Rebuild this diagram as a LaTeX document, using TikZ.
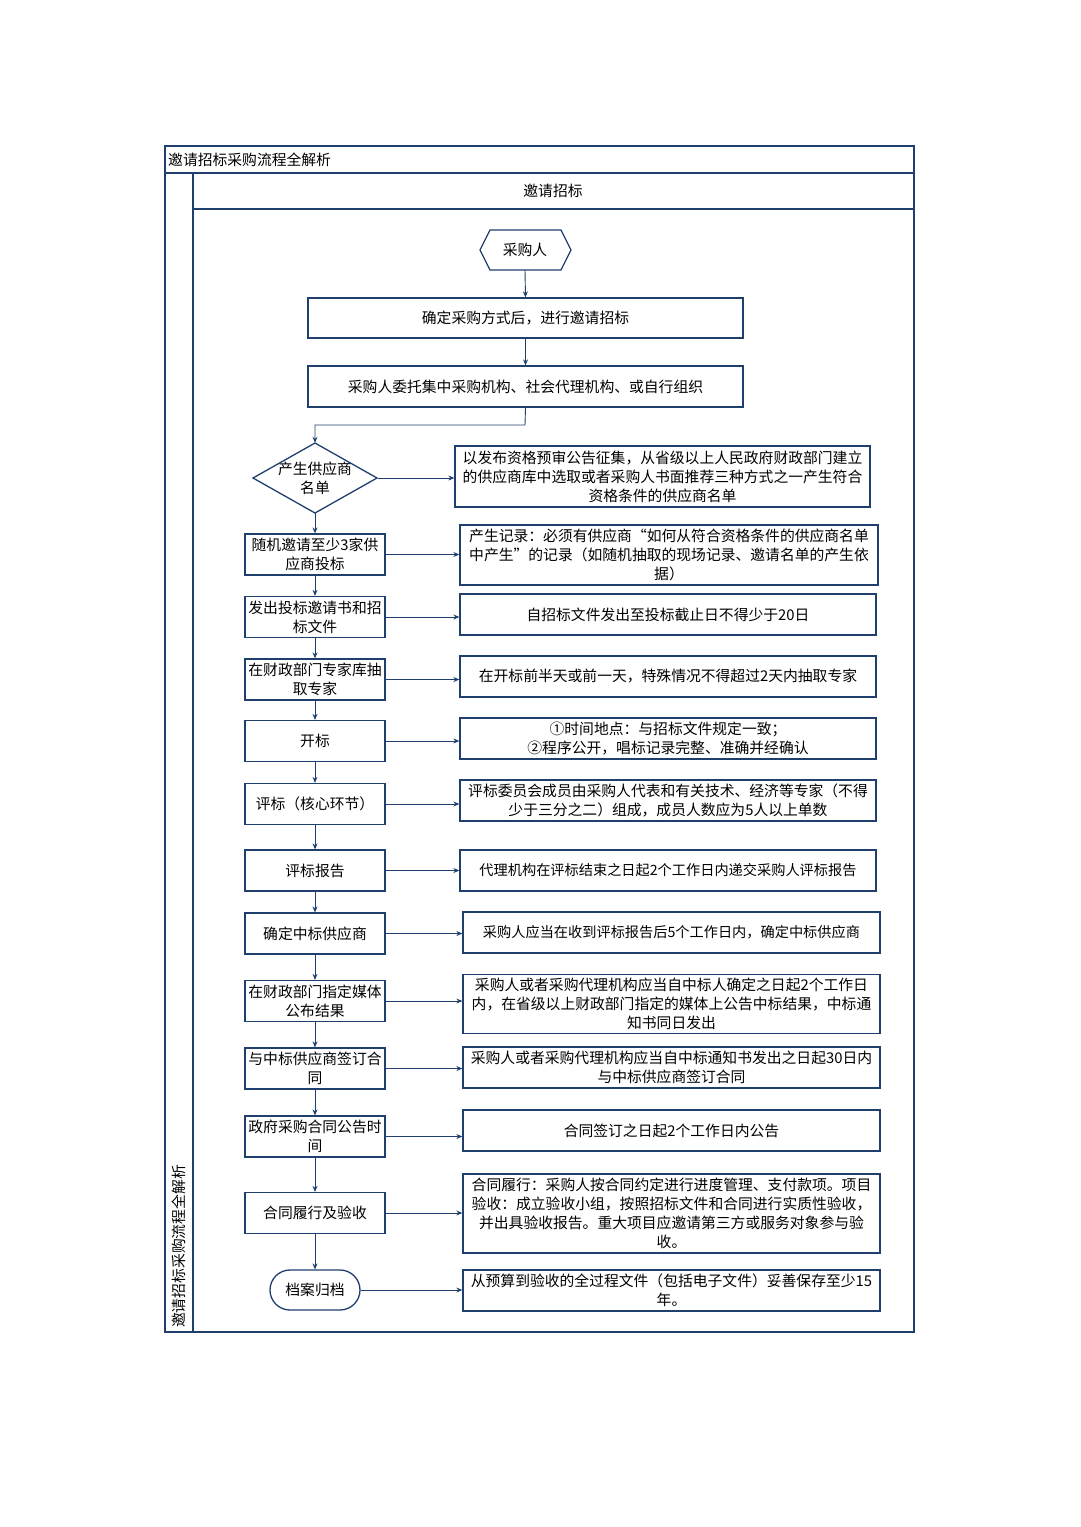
\documentclass[tikz,border=0pt]{standalone}
\usepackage{fontspec}
\setmainfont{Noto Sans CJK SC}
\XeTeXlinebreaklocale "zh"
\XeTeXlinebreakskip=0pt plus 0.5pt
\usetikzlibrary{arrows.meta}
\definecolor{ln}{HTML}{1F3F6F}
\begin{document}
\begin{tikzpicture}[x=1pt,y=-1pt,
  font=\fontsize{14.8pt}{19pt}\selectfont,
  bd/.style={line width=1.3pt, draw=ln},
  arr/.style={-{Stealth[length=6pt,width=5pt]}, line width=0.9pt, draw=ln},
  lb/.style={draw=ln, line width=1.3pt, minimum width=140pt, minimum height=41pt, align=flush center, text width=134pt, inner sep=2pt},
  rb/.style={draw=ln, line width=1.3pt, align=flush center, inner sep=2pt}]
\useasboundingbox (0,0) rectangle (1080,1527);
% frame
\draw[bd] (165,146) rectangle (914,1332);
\draw[bd] (165,173) -- (914,173);
\draw[bd] (193,173) -- (193,1332);
\draw[bd] (193,209) -- (914,209);
\node[anchor=west, inner sep=0] (title) at (168,159.5) {邀请招标采购流程全解析};
\node (lane) at (553,191) {邀请招标};
\node[rotate=90, anchor=west, inner sep=0] (vt) at (179,1328) {邀请招标采购流程全解析};
% start
\node[minimum width=91pt, minimum height=40pt, inner sep=0] (s) at (525,250) {采购人};
\draw[bd] (480,250) -- (490,230) -- (561,230) -- (571,250) -- (561,270) -- (490,270) -- cycle;
\node[rb, minimum width=435pt, minimum height=40pt] (a1) at (525.5,318) {确定采购方式后，进行邀请招标};
\node[rb, minimum width=435pt, minimum height=41pt] (a2) at (525.5,386.5) {采购人委托集中采购机构、社会代理机构、或自行组织};
\draw[arr] (s.south) -- (a1.north);
\draw[arr] (a1.south) -- (a2.north);
% diamond
\node[minimum width=125pt, minimum height=70pt, inner sep=0, align=center] (d) at (315,478) {产生供应商\\名单};
\draw[bd] (253,478) -- (315,443) -- (377,478) -- (315,513) -- cycle;
\coordinate (k) at (525,425);
\draw[arr] (a2.south) -- (k) -| (d.north);
\node[rb, minimum width=415pt, minimum height=61pt, text width=409pt] (r0) at (662.5,476.5) {以发布资格预审公告征集，从省级以上人民政府财政部门建立的供应商库中选取或者采购人书面推荐三种方式之一产生符合资格条件的供应商名单};
\draw[arr] (d.east) -- (d.east -| r0.west);
% left column
\node[lb] (b1) at (315,554.5) {随机邀请至少3家供应商投标};
\node[lb] (b2) at (315,617) {发出投标邀请书和招标文件};
\node[lb] (b3) at (315,679.5) {在财政部门专家库抽取专家};
\node[lb] (b4) at (315,741) {开标};
\node[lb] (b5) at (315,804) {评标（核心环节）};
\node[lb] (b6) at (315,870.5) {评标报告};
\node[lb] (b7) at (315,933.5) {确定中标供应商};
\node[lb] (b8) at (315,1001) {在财政部门指定媒体公布结果};
\node[lb] (b9) at (315,1068.5) {与中标供应商签订合同};
\node[lb] (b10) at (315,1136.5) {政府采购合同公告时间};
\node[lb] (b11) at (315,1213) {合同履行及验收};
\node[draw=ln, line width=1.3pt, rounded corners=20pt, minimum width=90pt, minimum height=40pt] (e) at (315,1290) {档案归档};
% right column
\node[rb, minimum width=418pt, minimum height=60pt, text width=412pt] (r1) at (669,555) {产生记录：必须有供应商“如何从符合资格条件的供应商名单中产生”的记录（如随机抽取的现场记录、邀请名单的产生依据）};
\node[rb, minimum width=416pt, minimum height=41pt, text width=410pt] (r2) at (668,614.5) {自招标文件发出至投标截止日不得少于20日};
\node[rb, minimum width=416pt, minimum height=41pt, text width=410pt] (r3) at (668,676.5) {在开标前半天或前一天，特殊情况不得超过2天内抽取专家};
\node[rb, minimum width=416pt, minimum height=41pt, text width=410pt] (r4) at (668,738.5) {①时间地点：与招标文件规定一致；\\②程序公开，唱标记录完整、准确并经确认};
\node[rb, minimum width=416pt, minimum height=41pt, text width=410pt] (r5) at (668,800.5) {评标委员会成员由采购人代表和有关技术、经济等专家（不得少于三分之二）组成，成员人数应为5人以上单数};
\node[rb, minimum width=416pt, minimum height=41pt, text width=412pt, font=\fontsize{14.2pt}{19pt}\selectfont] (r6) at (668,870.5) {代理机构在评标结束之日起2个工作日内递交采购人评标报告};
\node[rb, minimum width=417pt, minimum height=41pt, text width=413pt, font=\fontsize{14.2pt}{19pt}\selectfont] (r7) at (671.5,932.5) {采购人应当在收到评标报告后5个工作日内，确定中标供应商};
\node[rb, minimum width=417pt, minimum height=59pt, text width=411pt] (r8) at (671.5,1004) {采购人或者采购代理机构应当自中标人确定之日起2个工作日内，在省级以上财政部门指定的媒体上公告中标结果，中标通知书同日发出};
\node[rb, minimum width=417pt, minimum height=41pt, text width=411pt] (r9) at (671.5,1067.5) {采购人或者采购代理机构应当自中标通知书发出之日起30日内与中标供应商签订合同};
\node[rb, minimum width=417pt, minimum height=41pt, text width=411pt] (r10) at (671.5,1130.5) {合同签订之日起2个工作日内公告};
\node[rb, minimum width=417pt, minimum height=79pt, text width=411pt] (r11) at (671.5,1213.5) {合同履行：采购人按合同约定进行进度管理、支付款项。项目验收：成立验收小组，按照招标文件和合同进行实质性验收，并出具验收报告。重大项目应邀请第三方或服务对象参与验收。};
\node[rb, minimum width=417pt, minimum height=41pt, text width=411pt] (r12) at (671.5,1290.5) {从预算到验收的全过程文件（包括电子文件）妥善保存至少15年。};
% vertical arrows
\draw[arr] (d.south) -- (b1.north);
\foreach \p/\q in {b1/b2,b2/b3,b3/b4,b4/b5,b5/b6,b6/b7,b7/b8,b8/b9,b9/b10,b10/b11,b11/e}
  \draw[arr] (\p.south) -- (\q.north);
% horizontal arrows
\foreach \p/\q in {b1/r1,b2/r2,b3/r3,b4/r4,b5/r5,b6/r6,b7/r7,b8/r8,b9/r9,b10/r10,b11/r11,e/r12}
  \draw[arr] (\p.east) -- (\p.east -| \q.west);
\end{tikzpicture}
\end{document}
